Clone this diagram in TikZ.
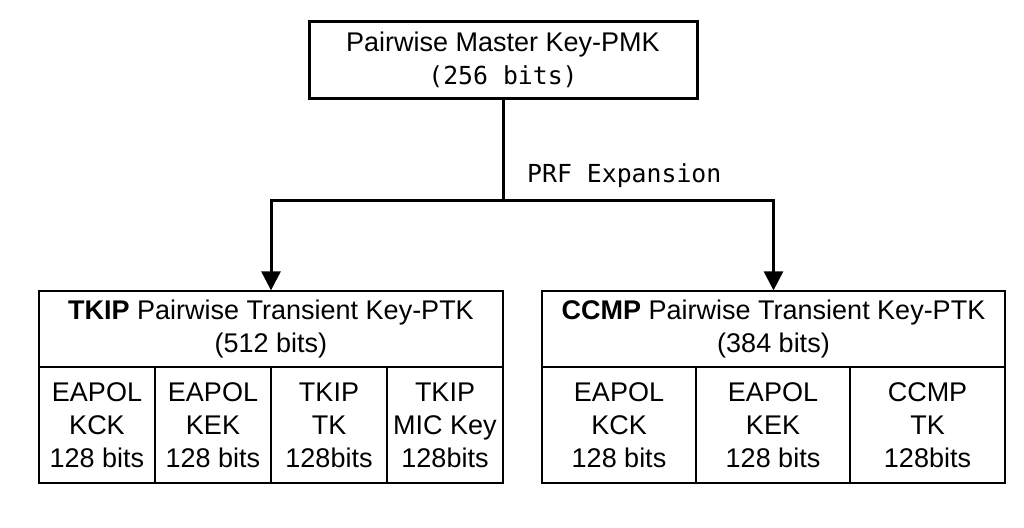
\documentclass[tikz,border=0pt]{standalone}
\usepackage{fontspec}
\setmainfont{Liberation Sans}
\newfontfamily\monof{DejaVu Sans Mono}
\usetikzlibrary{arrows.meta}
\begin{document}
\begin{tikzpicture}[x=1pt,y=-1pt,
  bigbox/.style={draw, line width=3pt, inner sep=0pt, align=center, font=\fontsize{27}{33}\selectfont},
  hdr/.style={draw, line width=1.3pt, inner sep=0pt, align=center, minimum height=76pt, font=\fontsize{27}{33}\selectfont},
  cell/.style={draw, line width=1.3pt, inner sep=0pt, align=center, minimum height=116pt, font=\fontsize{27}{33}\selectfont},
  conn/.style={line width=3pt},
  arr/.style={line width=3pt, -{Triangle[width=19pt,length=19pt]}},
  lbl/.style={font=\monof\fontsize{24.8}{28}\selectfont, inner sep=0pt}
]
\useasboundingbox (0,0) rectangle (1024,527);
\node[bigbox, minimum width=388pt, minimum height=76pt] (pmk) at (503,60)
  {Pairwise Master Key-PMK\\{\monof\fontsize{24.8}{33}\selectfont (256 bits)}};
% TKIP group
\node[hdr, minimum width=464pt] (tkiph) at (271,329) {\textbf{TKIP} Pairwise Transient Key-PTK\\(512 bits)};
\node[cell, minimum width=116pt] (t1) at (97,425) {EAPOL\\KCK\\128 bits};
\node[cell, minimum width=116pt] (t2) at (213,425) {EAPOL\\KEK\\128 bits};
\node[cell, minimum width=116pt] (t3) at (329,425) {TKIP\\TK\\128bits};
\node[cell, minimum width=116pt] (t4) at (445,425) {TKIP\\MIC Key\\128bits};
% CCMP group
\node[hdr, minimum width=463pt] (ccmph) at (773.5,329) {\textbf{CCMP} Pairwise Transient Key-PTK\\(384 bits)};
\node[cell, minimum width=154pt] (c1) at (619,425) {EAPOL\\KCK\\128 bits};
\node[cell, minimum width=154pt] (c2) at (773,425) {EAPOL\\KEK\\128 bits};
\node[cell, minimum width=155pt] (c3) at (927.5,425) {CCMP\\TK\\128bits};
% connectors
\coordinate (split) at (503,200);
\draw[conn] (pmk.south) -- (split);
\draw[arr] (split) -| (tkiph.north);
\draw[arr] (split) -| (ccmph.north);
\node[lbl, anchor=west] (prf) at (527,176) {PRF Expansion};
\end{tikzpicture}
\end{document}
